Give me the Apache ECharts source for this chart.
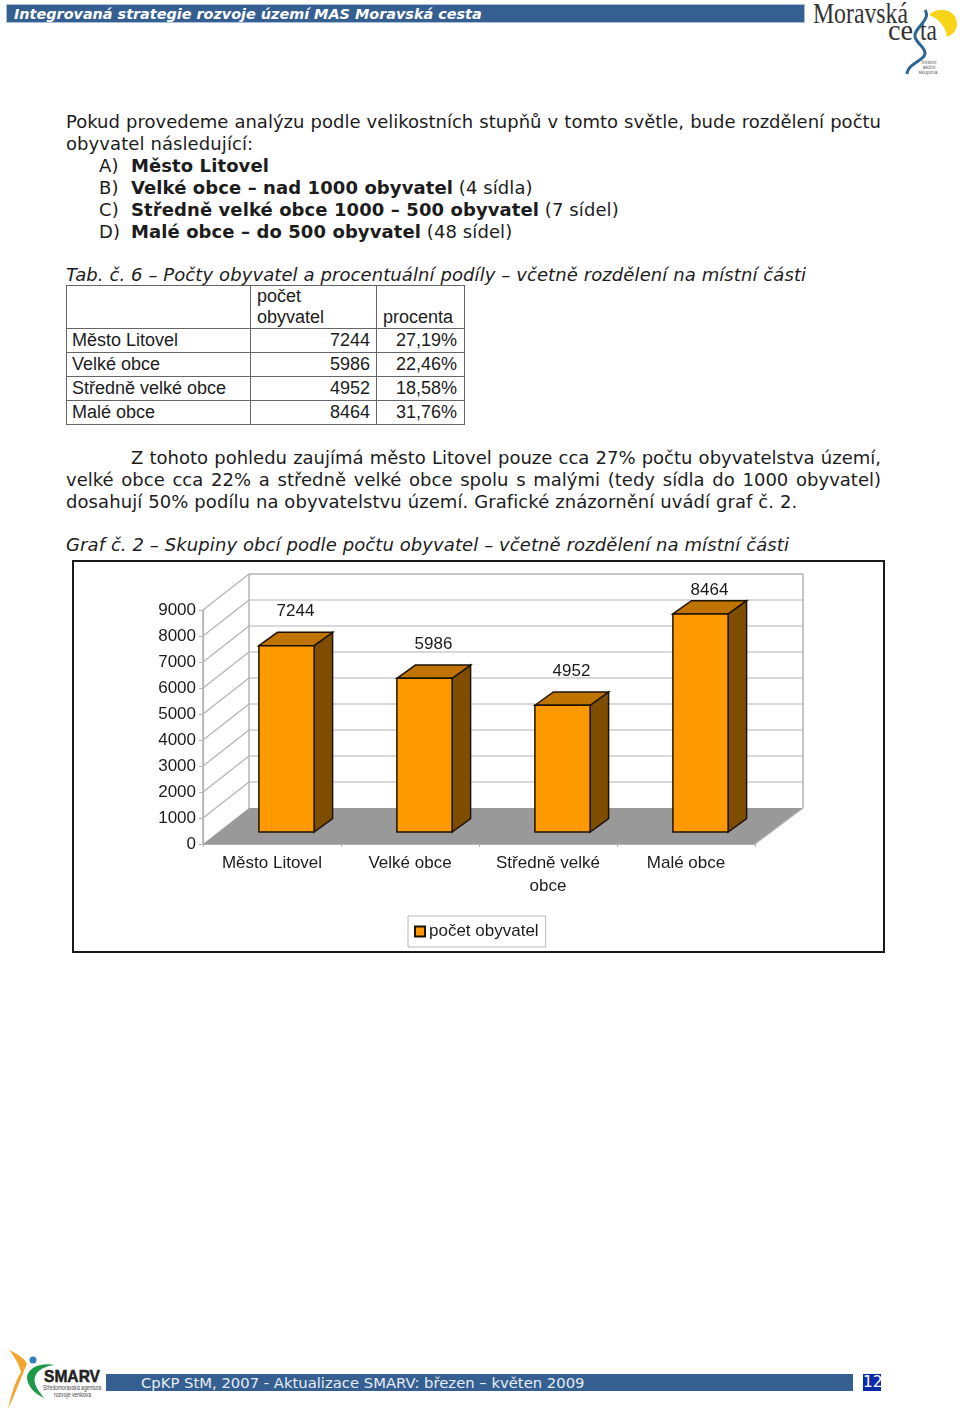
<!DOCTYPE html>
<html lang="cs"><head><meta charset="utf-8">
<script src="https://cdn.jsdelivr.net/npm/echarts@6/dist/echarts.min.js"></script>
<style>
html,body{margin:0;padding:0;background:#fff;width:960px;height:1412px;overflow:hidden}
.ln{position:absolute;white-space:pre;font:18px/22px "DejaVu Sans",sans-serif;letter-spacing:.09px;color:#1c1c1c;height:22px}
.j{text-align-last:justify;white-space:normal;letter-spacing:0}
.i{font-style:italic}
.bar{position:absolute;background:#355f91;box-shadow:0 0 0 1px #a9c0d8}
#tbl{position:absolute;left:66px;top:285px;border-collapse:collapse;table-layout:fixed;width:398px;font:18px/21px "Liberation Sans",sans-serif;color:#1c1c1c}
#tbl td{border:1.5px solid #666;padding:0 5px 0 6px;height:23px;vertical-align:middle;overflow:hidden;white-space:nowrap}
#tbl td:first-child{padding-left:5px}
#tbl td.n{text-align:right;padding-right:6px}
#tbl td.n:last-child{padding-right:7px}
#tbl tr.h td{height:41px;vertical-align:bottom;white-space:normal;padding-bottom:0}
#chart{position:absolute;left:72px;top:560px;width:813px;height:393px}
svg{position:absolute}
</style></head><body>
<div class="bar" style="left:7px;top:5px;width:797px;height:17px"></div>
<div class="ln i" style="left:14px;top:4px;font:italic bold 14.400px/20px 'DejaVu Sans';letter-spacing:0;color:#fff">Integrovaná strategie rozvoje území MAS Moravská cesta</div>

<svg style="left:800px;top:0" width="160" height="85" viewBox="0 0 160 85">
<path d="M129 15 C133 11 137 10 142 10 C151 10 157 16 157 24 C157 30 153 35 147 37 C146 28 140 19 129 15Z" fill="#f7d418"/>
<text x="13" y="23" font-family="Liberation Serif" font-size="30" fill="#333" textLength="95" lengthAdjust="spacingAndGlyphs">Moravská</text>
<text x="88" y="40" font-family="Liberation Serif" font-size="30" fill="#333" textLength="25" lengthAdjust="spacingAndGlyphs">ce</text>
<text x="120" y="40" font-family="Liberation Serif" font-size="30" fill="#333" textLength="17" lengthAdjust="spacingAndGlyphs">ta</text>
<path d="M125 10 C132 20 113 28 115 37 C117 44 126 48 125 54 C124 61 108 63 107 74" fill="none" stroke="#2f6691" stroke-width="3"/>
<text x="129" y="64" font-family="Liberation Sans" font-size="5.500" fill="#666" text-anchor="middle">místní</text>
<text x="129" y="68.500" font-family="Liberation Sans" font-size="5.500" fill="#666" text-anchor="middle">akční</text>
<text x="128" y="73.500" font-family="Liberation Sans" font-size="5.500" fill="#666" text-anchor="middle">skupina</text>
</svg>

<div id="prose"></div>
<table id="tbl"><colgroup><col style="width:184px"><col style="width:126px"><col style="width:88px"></colgroup><tbody id="tb"></tbody></table>
<div id="chart"></div>

<svg style="left:0;top:1340px" width="110" height="72" viewBox="0 0 110 72">
<path d="M9 10 C17 13 26 20 27 24 C22 35 17 50 8 69 C11 55 15 42 21 32 C19 24 14 16 9 10Z" fill="#f4a52e"/>
<circle cx="33" cy="20" r="3.500" fill="#2f7fc0"/>
<path d="M55 25 C40 22 28 28 27 37 C27 46 35 54 44 58 C38 50 33 44 35 37 C37 30 45 26 55 25Z" fill="#1c9a4a"/>
<text x="44" y="42" font-family="Liberation Sans" font-weight="bold" font-size="17" fill="#222" stroke="#222" stroke-width=".5" textLength="56" lengthAdjust="spacingAndGlyphs">SMARV</text>
<text x="43" y="50" font-family="Liberation Sans" font-size="6.500" fill="#444" textLength="58" lengthAdjust="spacingAndGlyphs">Středomoravská agentura</text>
<text x="54" y="57" font-family="Liberation Sans" font-size="6.500" fill="#444" textLength="37" lengthAdjust="spacingAndGlyphs">rozvoje venkova</text>
</svg>
<div class="bar" style="left:106px;top:1374px;width:747px;height:17px;box-shadow:none"></div>
<div class="ln" style="left:141px;top:1372px;font-size:14.800px;letter-spacing:0;color:#e6edf5">CpKP StM, 2007 - Aktualizace SMARV: březen – květen 2009</div>
<div class="ln" style="left:863px;top:1374px;width:18px;height:17px;background:#0a2aa8;color:#fff;font-size:15.500px;letter-spacing:0;line-height:17px;text-align:center">12</div>

<script>
// ---- chart data ----
var categories = ['Město Litovel', 'Velké obce', 'Středně velké obce', 'Malé obce'];
var populationValues = [7244, 5986, 4952, 8464];
var percentLabels = ['27,19%', '22,46%', '18,58%', '31,76%'];
var gridValues = [0, 1000, 2000, 3000, 4000, 5000, 6000, 7000, 8000, 9000];
var seriesName = 'počet obyvatel';
var percentHeader = 'procenta';

// ---- document text ----
var b = function (s) { return '<b>' + s + '</b>'; };
var proseLines = [
  [66, 111, 815, 'j', 'Pokud provedeme analýzu podle velikostních stupňů v tomto světle, bude rozdělení počtu'],
  [66, 133, 0, '', 'obyvatel následující:'],
  [99, 155, 0, '', 'A)'], [131, 155, 0, '', b('Město Litovel')],
  [99, 177, 0, '', 'B)'], [131, 177, 0, '', b('Velké obce – nad 1000 obyvatel') + ' (4 sídla)'],
  [99, 199, 0, '', 'C)'], [131, 199, 0, '', b('Středně velké obce 1000 – 500 obyvatel') + ' (7 sídel)'],
  [99, 221, 0, '', 'D)'], [131, 221, 0, '', b('Malé obce – do 500 obyvatel') + ' (48 sídel)'],
  [66, 264, 0, 'i', 'Tab. č. 6 – Počty obyvatel a procentuální podíly – včetně rozdělení na místní části'],
  [131, 447, 750, 'j', 'Z tohoto pohledu zaujímá město Litovel pouze cca 27% počtu obyvatelstva území,'],
  [66, 469, 815, 'j', 'velké obce cca 22% a středně velké obce spolu s malými (tedy sídla do 1000 obyvatel)'],
  [66, 491, 0, '', 'dosahují 50% podílu na obyvatelstvu území. Grafické znázornění uvádí graf č. 2.'],
  [66, 534, 0, 'i', 'Graf č. 2 – Skupiny obcí podle počtu obyvatel – včetně rozdělení na místní části']
];
document.getElementById('prose').innerHTML = proseLines.map(function (l) {
  return '<div class="ln ' + l[3] + '" style="left:' + l[0] + 'px;top:' + l[1] + 'px' +
    (l[2] ? ';width:' + l[2] + 'px' : '') + '">' + l[4] + '</div>';
}).join('');
document.getElementById('tb').innerHTML =
  '<tr class="h"><td></td><td>počet<br>obyvatel</td><td>' + percentHeader + '</td></tr>' +
  categories.map(function (c, i) {
    return '<tr><td>' + c + '</td><td class="n">' + populationValues[i] + '</td><td class="n">' + percentLabels[i] + '</td></tr>';
  }).join('');

// ---- 3D look, in pixels ----
var WALL_DX = 46, WALL_DY = -36;     // depth of the floor
var BAR_SHIFT_X = 14.5, BAR_BASE_UP = 12, BAR_TOP_UP = 10;
var BAR_DX = 18.5, BAR_DY = -13.3;   // depth of one bar
var BAR_WIDTH = 0.4;                 // share of the category slot
var LABEL_UP = 34, LABEL_TOP_LIMIT = 30; // label distance above bar; ceiling inside the box
var GRID_COLOR = '#b3b3b3', FRONT = '#ff9900', TOP = '#bf7400', SIDE = '#7f4d00', EDGE = '#1d1305';

function poly(pts, fill, stroke, w) {
  return { type: 'polygon', shape: { points: pts }, style: { fill: fill, stroke: stroke, lineWidth: w } };
}
function seg(x1, y1, x2, y2, w) {
  return { type: 'line', shape: { x1: x1, y1: y1, x2: x2, y2: y2 }, style: { stroke: GRID_COLOR, lineWidth: w || 1.2 } };
}
function renderWall(params, api) {
  var v = api.value(0);
  var slot = api.size([1, 0])[0];
  var p = api.coord([0, v]);
  var xL = p[0] - slot / 2, y = p[1];
  var xR = api.coord([categories.length - 1, v])[0] + slot / 2;
  var kids = [];
  if (v === 0) {
    var top = api.coord([0, gridValues[gridValues.length - 1]])[1];
    kids.push(poly([[xL, y], [xL + WALL_DX, y + WALL_DY], [xR + WALL_DX + 2, y + WALL_DY], [xR, y]], '#999999', 'none', 0));
    kids.push(seg(xL, y, xL, top, 1.5));
    kids.push(seg(xL + WALL_DX, y + WALL_DY, xL + WALL_DX, top + WALL_DY, 1.5));
    kids.push(seg(xR + WALL_DX + 2, y + WALL_DY, xR + WALL_DX + 2, top + WALL_DY, 1.5));
    kids.push(seg(xR, y, xR + WALL_DX + 2, y + WALL_DY, 1.2));
  } else {
    kids.push(seg(xL, y, xL + WALL_DX, y + WALL_DY));
    kids.push(seg(xL + WALL_DX, y + WALL_DY, xR + WALL_DX + 2, y + WALL_DY, v === gridValues[gridValues.length - 1] ? 1.6 : 1.2));
  }
  return { type: 'group', children: kids };
}
function renderBar(params, api) {
  var i = api.value(0), v = api.value(1);
  var slot = api.size([1, 0])[0], w = slot * BAR_WIDTH;
  var tp = api.coord([i, v]), bt = api.coord([i, 0]);
  var x0 = tp[0] + BAR_SHIFT_X - w / 2, x1 = x0 + w;
  var yT = tp[1] - BAR_TOP_UP, yB = bt[1] - BAR_BASE_UP;
  var dx = BAR_DX, dy = BAR_DY;
  return { type: 'group', children: [
    poly([[x1, yT], [x1 + dx, yT + dy], [x1 + dx, yB + dy], [x1, yB]], SIDE, EDGE, 1.5),
    poly([[x0, yT], [x0 + dx, yT + dy], [x1 + dx, yT + dy], [x1, yT]], TOP, EDGE, 1.5),
    poly([[x0, yT], [x1, yT], [x1, yB], [x0, yB]], FRONT, EDGE, 1.5),
    { type: 'text', style: { x: tp[0] + 23.5, y: Math.max(yT - LABEL_UP, LABEL_TOP_LIMIT), text: String(v),
      align: 'center', verticalAlign: 'middle', font: '17px "Liberation Sans"', fill: '#1c1c1c' } }
  ] };
}

var chart = echarts.init(document.getElementById('chart'), null, { renderer: 'canvas' });
chart.setOption({
  animation: false,
  backgroundColor: 'transparent',
  graphic: [{ type: 'rect', z: -10, silent: true, shape: { x: 1, y: 1, width: 811, height: 391 },
    style: { fill: '#fff', stroke: '#1a1a1a', lineWidth: 2 } }],
  grid: { left: 131, top: 50, width: 552, height: 234, containLabel: false },
  legend: {
    data: [seriesName], left: 336, top: 356, itemWidth: 10, itemHeight: 10, itemGap: 0,
    padding: [7, 7, 7, 6], borderColor: '#b8b8b8', borderWidth: 1, backgroundColor: '#fff',
    textStyle: { fontFamily: 'Liberation Sans', fontSize: 17, color: '#1c1c1c', padding: [0, 0, 0, -1] },
    selectedMode: false, icon: 'rect'
  },
  xAxis: { type: 'category', data: categories,
    axisLine: { lineStyle: { color: GRID_COLOR, width: 1.2 } },
    axisTick: { show: true, length: 3, alignWithLabel: false, lineStyle: { color: GRID_COLOR } },
    axisLabel: { interval: 0, margin: 8, lineHeight: 23,
      formatter: function (s) { return s.length > 15 ? s.replace(/ (\S+)$/, '\n$1') : s; },
      fontFamily: 'Liberation Sans', fontSize: 17, color: '#1c1c1c', verticalAlign: 'top' },
    splitLine: { show: false } },
  yAxis: { type: 'value', min: 0, max: 9000, interval: 1000,
    axisLine: { show: true, lineStyle: { color: GRID_COLOR, width: 1.2 } },
    axisTick: { show: true, length: 4, lineStyle: { color: GRID_COLOR } },
    axisLabel: { margin: 7, padding: [2, 0, 0, 0], formatter: function (v) { return String(v); }, fontFamily: 'Liberation Sans', fontSize: 17, color: '#1c1c1c' },
    splitLine: { show: false } },
  series: [
    { type: 'custom', name: 'walls', z: 1, silent: true, clip: false, renderItem: renderWall,
      encode: { y: 0 }, data: gridValues.map(function (v) { return [v]; }) },
    { type: 'custom', name: seriesName, z: 5, clip: false, renderItem: renderBar,
      itemStyle: { color: FRONT, borderColor: EDGE, borderWidth: 1.5 },
      encode: { x: 0, y: 1 },
      data: populationValues.map(function (v, i) { return [i, v]; }) }
  ]
});
</script>
</body></html>
